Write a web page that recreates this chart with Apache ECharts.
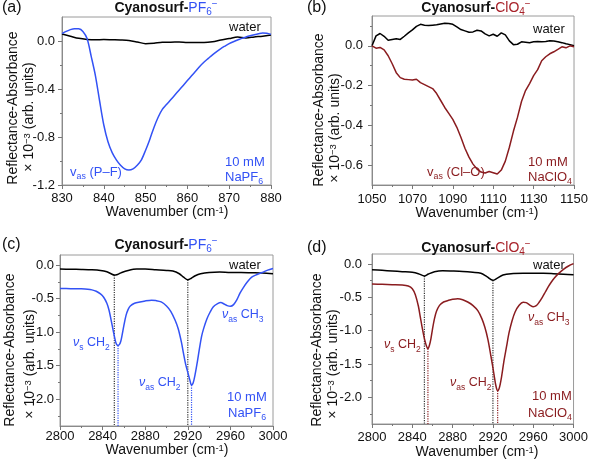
<!DOCTYPE html>
<html><head><meta charset="utf-8">
<script src="https://cdn.jsdelivr.net/npm/echarts@6/dist/echarts.min.js"></script>
<style>html,body{margin:0;padding:0;background:#fff}#c{width:591px;height:463px}</style>
</head><body><div id="c"></div>
<script>
// ---------- data ----------
// (a) Cyanosurf-PF6-, P–F region
const aBlueX = [830,831,832,833,834,835,836,837,838,839,840,841,842,843,844,845,846,847,848,849,850,851,852,853,854,855,856,857,858,859,860,861,862,863,864,865,866,867,868,869,870,871,872,873,874,875,876,877,878,879,880];
const aBlue = [0.062,0.08,0.095,0.103,0.102,0.08,0.02,-0.13,-0.29,-0.5,-0.7,-0.84,-0.93,-0.99,-1.035,-1.065,-1.075,-1.065,-1.035,-0.99,-0.91,-0.82,-0.72,-0.635,-0.57,-0.53,-0.49,-0.45,-0.41,-0.37,-0.33,-0.29,-0.25,-0.21,-0.175,-0.145,-0.115,-0.088,-0.063,-0.042,-0.022,-0.006,0.008,0.022,0.033,0.043,0.052,0.06,0.066,0.065,0.055];
const aWaterX = [830,832,834,836,838,840,842,844,846,848,850,852,854,856,858,860,862,864,866,868,870,872,874,876,878,880];
const aWater = [0.058,0.04,0.022,0.013,0.01,0.012,0.01,0.008,0.004,-0.008,-0.022,-0.018,-0.01,-0.01,-0.008,-0.012,-0.012,-0.012,-0.006,0.008,0.02,0.034,0.026,0.034,0.04,0.05];
const aYTicks = [-1.2, -0.8, -0.4, 0];

// (b) Cyanosurf-ClO4-, Cl–O region
const bX = [1050,1052,1054,1056,1058,1060,1062,1064,1066,1068,1070,1072,1074,1076,1078,1080,1082,1084,1086,1088,1090,1092,1094,1096,1098,1100,1102,1104,1106,1108,1110,1112,1114,1116,1118,1120,1122,1124,1126,1128,1130,1132,1134,1136,1138,1140,1142,1144,1146,1148,1150];
const bRed = [0,-0.012,-0.008,-0.02,-0.05,-0.09,-0.135,-0.16,-0.168,-0.17,-0.172,-0.168,-0.185,-0.195,-0.205,-0.215,-0.24,-0.275,-0.31,-0.34,-0.37,-0.41,-0.46,-0.515,-0.56,-0.595,-0.62,-0.635,-0.64,-0.632,-0.638,-0.645,-0.625,-0.58,-0.51,-0.43,-0.36,-0.28,-0.225,-0.19,-0.15,-0.12,-0.075,-0.055,-0.04,-0.03,-0.018,-0.005,-0.01,0,-0.005];
const bWater = [0,0.05,0.062,0.048,0.028,0.032,0.036,0.032,0.048,0.065,0.08,0.098,0.108,0.104,0.102,0.104,0.106,0.11,0.113,0.112,0.108,0.095,0.082,0.075,0.068,0.07,0.078,0.075,0.06,0.05,0.058,0.048,0.065,0.055,0.025,0.006,0.008,0.02,0.018,0.016,0.02,0.022,0.02,0.022,0.025,0.024,0.02,0.016,0.01,0.006,0];
const bYTicks = [-0.6, -0.4, -0.2, 0];

// (c) Cyanosurf-PF6-, C–H region
const cBlueX = [2800,2810,2820,2826,2830,2834,2838,2841,2844,2846,2848,2850,2852,2853,2854.5,2856,2857,2858,2860,2862,2864,2866,2870,2875,2880,2886,2890,2895,2900,2904,2908,2911,2914,2916,2918,2920,2922,2923.5,2925,2927,2929,2931,2933,2935,2938,2941,2944,2948,2951,2954,2957,2960,2963,2966,2969,2972,2976,2980,2985,2990,2995,3000];
const cBlue = [-0.35,-0.352,-0.355,-0.36,-0.37,-0.39,-0.43,-0.48,-0.57,-0.67,-0.82,-0.98,-1.13,-1.18,-1.2,-1.18,-1.14,-1.07,-0.9,-0.75,-0.66,-0.61,-0.57,-0.55,-0.535,-0.525,-0.53,-0.55,-0.61,-0.69,-0.82,-0.95,-1.15,-1.32,-1.48,-1.6,-1.72,-1.79,-1.76,-1.62,-1.44,-1.24,-1.06,-0.94,-0.8,-0.7,-0.62,-0.575,-0.56,-0.58,-0.605,-0.615,-0.59,-0.52,-0.42,-0.34,-0.25,-0.18,-0.14,-0.11,-0.075,-0.05];
const cWaterX = [2800,2810,2820,2830,2838,2844,2848,2851,2854,2858,2864,2872,2880,2890,2900,2906,2912,2916,2920,2923,2927,2932,2940,2950,2960,2970,2980,2990,3000];
const cWater = [-0.06,-0.062,-0.065,-0.07,-0.08,-0.1,-0.13,-0.15,-0.14,-0.11,-0.08,-0.06,-0.06,-0.07,-0.08,-0.09,-0.13,-0.18,-0.22,-0.2,-0.16,-0.13,-0.11,-0.105,-0.11,-0.11,-0.115,-0.12,-0.13];
const cWaterPeakX = [2851, 2920];
const cWaterPeakY = [-0.15, -0.22];
const cBluePeakX = [2854.5, 2923.5];
const cBluePeakY = [-1.2, -1.79];
const cdYTicks = [-2, -1.5, -1, -0.5, 0];

// (d) Cyanosurf-ClO4-, C–H region
const dRedX = [2800,2810,2820,2830,2836,2840,2843,2846,2848,2850,2852,2854,2855.5,2857,2858.5,2860,2862,2864,2867,2871,2876,2880,2885,2890,2895,2900,2905,2909,2912,2915,2918,2921,2923,2924.7,2926.5,2928.5,2931,2933.5,2936,2939,2942,2946,2950,2953,2957,2960,2963,2966,2969,2972,2975,2978,2981,2985,2990,2995,3000];
const dRed = [-0.3,-0.305,-0.31,-0.315,-0.33,-0.37,-0.46,-0.63,-0.8,-0.97,-1.12,-1.23,-1.27,-1.22,-1.12,-0.98,-0.82,-0.71,-0.62,-0.57,-0.545,-0.53,-0.52,-0.535,-0.57,-0.62,-0.7,-0.82,-0.95,-1.13,-1.38,-1.65,-1.83,-1.9,-1.85,-1.7,-1.45,-1.24,-1.03,-0.85,-0.72,-0.62,-0.575,-0.58,-0.62,-0.64,-0.625,-0.57,-0.5,-0.42,-0.34,-0.27,-0.21,-0.145,-0.08,-0.03,0.005];
const dWaterX = [2800,2810,2820,2830,2840,2846,2852,2856,2862,2870,2880,2890,2900,2908,2914,2920,2924,2930,2938,2950,2960,2970,2980,2990,3000];
const dWater = [-0.085,-0.095,-0.105,-0.115,-0.125,-0.145,-0.18,-0.15,-0.115,-0.1,-0.105,-0.112,-0.125,-0.14,-0.19,-0.245,-0.215,-0.165,-0.145,-0.14,-0.14,-0.14,-0.145,-0.152,-0.162];
const dWaterPeakX = [2852, 2920];
const dWaterPeakY = [-0.18, -0.245];
const dRedPeakX = [2855.5, 2924.7];
const dRedPeakY = [-1.27, -1.9];

// ---------- styling ----------
const F = 'Liberation Sans';
const BLUE = '#3352f5', RED = '#8a1c1f', TRED = '#a8222a';
const zip = (xs, ys) => xs.map((x, i) => [x, ys[i]]);
const fmtY = v => (Math.abs(v) < 1e-9 ? 0 : v).toFixed(1);

function mkX(gi, min, max, interval, margin) {
  return {type:'value', gridIndex:gi, min, max, interval,
    axisLine:{show:true, onZero:false, lineStyle:{color:'#8a8a8a', width:1}},
    axisTick:{show:true, length:4, lineStyle:{color:'#777'}},
    minorTick:{show:true, splitNumber:2, length:2, lineStyle:{color:'#777'}},
    splitLine:{show:false}, minorSplitLine:{show:false},
    axisLabel:{margin, color:'#111', fontFamily:F, fontSize:13, interval:0, hideOverlap:false,
      formatter: v => String(Math.round(v))}};
}
function mkY(gi, min, max, interval, splitNumber, margin, ticks, showLabels) {
  const o = {type:'value', gridIndex:gi, min, max, splitNumber,
    axisLine:{show:true, onZero:false, lineStyle:{color:'#8a8a8a', width:1}},
    axisTick:{show:true, length:4, lineStyle:{color:'#777'}, customValues:ticks},
    minorTick:{show:true, splitNumber:2, length:2, lineStyle:{color:'#777'}},
    splitLine:{show:false}, minorSplitLine:{show:false},
    axisLabel:{show:showLabels !== false, margin, color:'#111', fontFamily:F, fontSize:13, hideOverlap:false,
      showMinLabel:true, showMaxLabel:true, customValues:ticks, formatter: fmtY}};
  if (interval != null) o.interval = interval;
  return o;
}
function line(gi, xs, ys, color, smooth) {
  return {type:'line', xAxisIndex:gi, yAxisIndex:gi, data: zip(xs, ys),
    symbol:'none', showSymbol:false, smooth, lineStyle:{color, width:1.5}, silent:true};
}
function drops(gi, px, py, ymin, color) {
  return px.map((x, i) => ({type:'line', xAxisIndex:gi, yAxisIndex:gi, data:[[x, py[i]], [x, ymin]],
    symbol:'none', showSymbol:false, silent:true, z:1,
    lineStyle:{type:'dotted', color, width:1.2}}));
}

// rich text helpers
function R(size, extra) { return Object.assign({fontFamily:F, fontSize:size, lineHeight:18}, extra || {}); }
function T(x, y, text, o) {
  o = o || {};
  const el = {type:'text', x, y, rotation:o.rot || 0, silent:true, z:o.z || 100,
    style:{text, fill:o.fill || '#111', font:(o.weight || 'normal') + ' ' + (o.size || 13) + 'px "' + F + '"',
      align:o.align || 'left', verticalAlign:'middle', rich:o.rich}};
  if (o.zlevel) el.zlevel = o.zlevel;
  return el;
}
const richBase = (color, size) => {
  size = size || 13;
  return {
    t: R(size, {fill:color}),
    i: R(size, {fill:color, fontStyle:'italic'}),
    s: R(size * 0.68, {fill:color, verticalAlign:'bottom', lineHeight:size * 0.68}),
    u: R(size * 0.68, {fill:color, verticalAlign:'top', lineHeight:size * 0.68})
  };
};
const titleRich = (c) => ({
  b: R(14, {fontWeight:'bold', fill:'#111'}),
  c: R(14, {fill:c}),
  s: R(10, {fill:c, verticalAlign:'bottom', lineHeight:10}),
  u: R(10, {fill:c, verticalAlign:'top', lineHeight:10})
});
const axRich = {
  t: R(14, {fill:'#111', lineHeight:14}),
  u: R(9.5, {fill:'#111', verticalAlign:'top', lineHeight:9.5})
};

const graphic = [
  T(2, 8, '(a)', {size:16}), T(307, 8, '(b)', {size:16}),
  T(2, 245, '(c)', {size:16}), T(307, 248, '(d)', {size:16}),
  T(166, 8, '{b|Cyanosurf-}{c|PF}{s|6}{u|−}', {align:'center', rich:titleRich(BLUE)}),
  T(476, 8, '{b|Cyanosurf-}{c|ClO}{s|4}{u|−}', {align:'center', rich:titleRich(TRED)}),
  T(166, 245, '{b|Cyanosurf-}{c|PF}{s|6}{u|−}', {align:'center', rich:titleRich(BLUE)}),
  T(476, 248, '{b|Cyanosurf-}{c|ClO}{s|4}{u|−}', {align:'center', rich:titleRich(TRED)}),
  T(13, 108, '{t|Reflectance-Absorbance}', {align:'center', rot:Math.PI/2, rich:axRich}),
  T(29, 117, '{t|× 10}{u|−3}{t| (arb. units)}', {align:'center', rot:Math.PI/2, rich:axRich}),
  T(319, 110, '{t|Reflectance-Absorbance}', {align:'center', rot:Math.PI/2, rich:axRich}),
  T(335, 128, '{t|× 10}{u|−3}{t| (arb. units)}', {align:'center', rot:Math.PI/2, rich:axRich}),
  T(10, 350, '{t|Reflectance-Absorbance}', {align:'center', rot:Math.PI/2, rich:axRich}),
  T(30, 364, '{t|× 10}{u|−3}{t| (arb. units)}', {align:'center', rot:Math.PI/2, rich:axRich}),
  T(317, 350, '{t|Reflectance-Absorbance}', {align:'center', rot:Math.PI/2, rich:axRich}),
  T(333, 364, '{t|× 10}{u|−3}{t| (arb. units)}', {align:'center', rot:Math.PI/2, rich:axRich}),
  T(167, 212, '{t|Wavenumber (cm}{u|-1}{t|)}', {align:'center', rich:axRich}),
  T(477, 213, '{t|Wavenumber (cm}{u|-1}{t|)}', {align:'center', rich:axRich}),
  T(167, 450, '{t|Wavenumber (cm}{u|-1}{t|)}', {align:'center', rich:axRich}),
  T(477, 452, '{t|Wavenumber (cm}{u|-1}{t|)}', {align:'center', rich:axRich}),
  T(229, 27, 'water', {size:13}),
  T(70, 172, '{t|v}{s|as}{t| (P–F)}', {rich:richBase(BLUE)}),
  T(225, 162, '10 mM', {fill:BLUE}),
  T(225, 177, '{t|NaPF}{s|6}', {rich:richBase(BLUE)}),
  T(533, 29, 'water', {size:13}),
  T(427, 172, '{t|v}{s|as}{t| (Cl–O)}', {rich:richBase(RED)}),
  T(528, 162, '10 mM', {fill:RED}),
  T(528, 177, '{t|NaClO}{s|4}', {rich:richBase(RED)}),
  T(229, 265, 'water', {size:13}),
  T(73, 343, '{i|ν}{s|s}{t| CH}{s|2}', {rich:richBase(BLUE, 12.5)}),
  T(139, 383, '{i|ν}{s|as}{t| CH}{s|2}', {rich:richBase(BLUE, 12.5)}),
  T(222, 315, '{i|ν}{s|as}{t| CH}{s|3}', {rich:richBase(BLUE, 12.5)}),
  T(227, 397, '10 mM', {fill:BLUE}),
  T(228, 413, '{t|NaPF}{s|6}', {rich:richBase(BLUE)}),
  T(533, 265, 'water', {size:13}),
  T(384, 345, '{i|ν}{s|s}{t| CH}{s|2}', {rich:richBase(RED, 12.5)}),
  T(450, 383, '{i|ν}{s|as}{t| CH}{s|2}', {rich:richBase(RED, 12.5)}),
  T(528, 318, '{i|ν}{s|as}{t| CH}{s|3}', {rich:richBase(RED, 12.5)}),
  T(532, 396, '10 mM', {fill:RED}),
  T(528, 413, '{t|NaClO}{s|4}', {rich:richBase(RED)})
];

const gridBase = {show:true, borderColor:'#9a9a9a', borderWidth:1, backgroundColor:'transparent', containLabel:false};
const option = {
  animation:false,
  backgroundColor:'#fff',
  grid:[
    Object.assign({left:62, top:17, width:209, height:168}, gridBase),
    Object.assign({left:372, top:16, width:209, height:169}, gridBase),
    Object.assign({left:60, top:255, width:213, height:171}, gridBase),
    Object.assign({left:372, top:254, width:209, height:170}, gridBase)
  ],
  xAxis:[
    mkX(0, 830, 880, 10, 7),
    mkX(1, 1050, 1150, 20, 8),
    mkX(2, 2800, 3000, 40, 4),
    mkX(3, 2800, 3000, 40, 7)
  ],
  yAxis:[
    mkY(0, aYTicks[0], 0.2, 0.4, 4, 7, aYTicks, false),
    mkY(1, -0.7, 0.15, null, 5, 9, bYTicks),
    mkY(2, -2.4, 0.15, null, 5, 6, cdYTicks),
    mkY(3, -2.4, 0.15, null, 5, 10, cdYTicks)
  ],
  series:[
    line(0, aWaterX, aWater, '#000', 0.3),
    line(0, aBlueX, aBlue, BLUE, 0.3),
    line(1, bX, bWater, '#000', false),
    line(1, bX, bRed, RED, false),
    ...drops(2, cWaterPeakX, cWaterPeakY, -2.4, '#333'),
    ...drops(2, cBluePeakX, cBluePeakY, -2.4, BLUE),
    line(2, cWaterX, cWater, '#000', 0.3),
    line(2, cBlueX, cBlue, BLUE, 0.3),
    ...drops(3, dWaterPeakX, dWaterPeakY, -2.4, '#333'),
    ...drops(3, dRedPeakX, dRedPeakY, -2.4, RED),
    line(3, dWaterX, dWater, '#000', 0.3),
    line(3, dRedX, dRed, RED, 0.3)
  ],
  graphic
};
const chart = echarts.init(document.getElementById('c'), null, {renderer:'canvas'});
chart.setOption(option);
// (a) y tick labels, positioned through the axis's own scale, on a top layer
const aLabels = aYTicks.map(v => {
  const p = chart.convertToPixel({xAxisIndex:0, yAxisIndex:0}, [830, v]);
  return T(p[0] - 7, p[1], fmtY(v), {align:'right', size:13, z:1000, zlevel:1});
});
chart.setOption({graphic: graphic.concat(aLabels)});
</script>
</body></html>
